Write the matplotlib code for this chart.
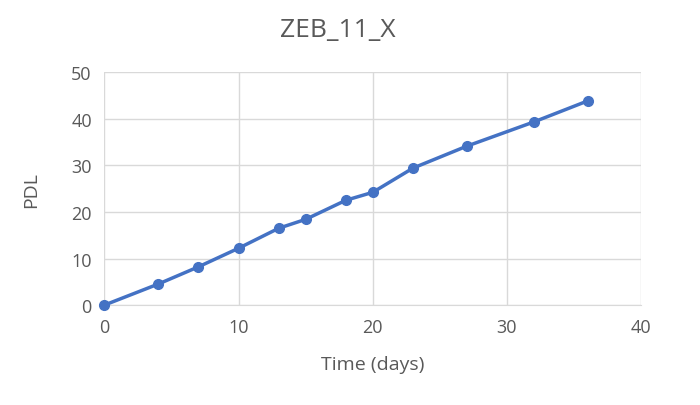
import matplotlib.pyplot as plt

days = [0, 4, 7, 10, 13, 15, 18, 20, 23, 27, 32, 36]
pdl = [0, 4.5, 8.2, 12.2, 16.5, 18.4, 22.5, 24.2, 29.4, 34.1, 39.3, 43.8]

plt.rcParams['font.family'] = ['Open Sans', 'DejaVu Sans']
grey = '#595959'

fig = plt.figure(figsize=(7, 4.06), dpi=100)
ax = fig.add_axes([0.149, 0.246, 0.767, 0.574])
ax.plot(days, pdl, color='#4472C4', lw=2.5, marker='o', ms=7, zorder=3, clip_on=False)

ax.set_xlim(0, 40)
ax.set_ylim(0, 50)
ax.set_xticks(range(0, 41, 10))
ax.set_yticks(range(0, 51, 10))
ax.grid(True, color='#D9D9D9', lw=1)
for s in ['top', 'right', 'left']:
    ax.spines[s].set_visible(False)
ax.spines['bottom'].set_color('#D9D9D9')
ax.tick_params(length=0, labelsize=13, labelcolor=grey, pad=9)

ax.set_xlabel('Time (days)', fontsize=14, color=grey, labelpad=14)
ax.set_ylabel('PDL', fontsize=14, color=grey, labelpad=22)
fig.text(0.483, 0.925, 'ZEB_11_X', fontsize=19, color=grey, ha='center', va='center')

fig.savefig('out.png')
